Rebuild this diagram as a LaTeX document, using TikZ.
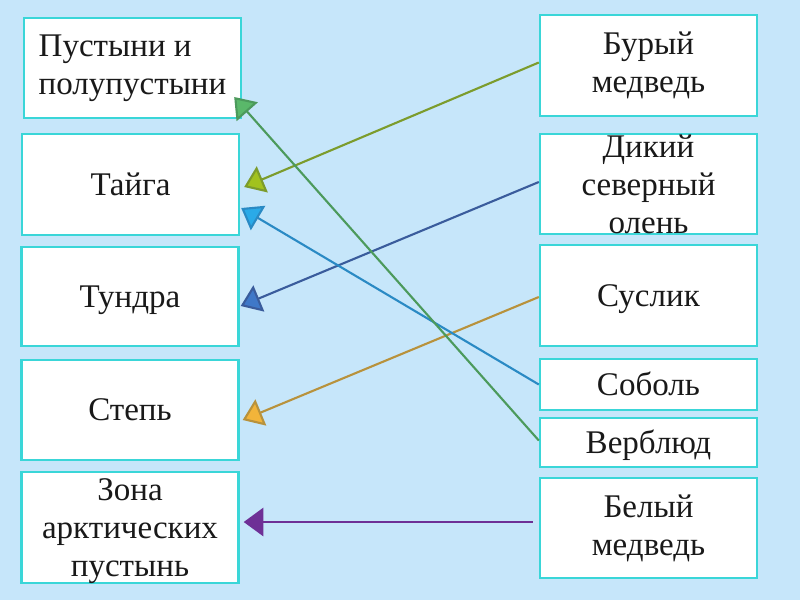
\documentclass[tikz,border=0pt]{standalone}
\usepackage{fontspec}
\setmainfont{Liberation Serif}
\usepackage{xcolor}
\usetikzlibrary{arrows.meta,calc}
\definecolor{bgSky}{HTML}{C6E6FA}
\definecolor{boxTeal}{HTML}{3AD6D8}
\definecolor{lnOlive}{HTML}{7C9C2C}
\definecolor{hdOlive}{HTML}{A2C21E}
\definecolor{lnNavy}{HTML}{3A5C9C}
\definecolor{hdNavy}{HTML}{3F78C8}
\definecolor{lnGold}{HTML}{B8923C}
\definecolor{hdGold}{HTML}{F2B43A}
\definecolor{lnSky}{HTML}{2A8AC4}
\definecolor{hdSky}{HTML}{2AAAE8}
\definecolor{lnGreen}{HTML}{4C9A5C}
\definecolor{hdGreen}{HTML}{5AB86A}
\definecolor{lnPurple}{HTML}{6E3096}
\tikzset{
  card/.style={draw=boxTeal, line width=1.8pt, fill=white, minimum width=5.42cm, inner sep=2pt, align=center, text=black!90},
  oneline/.style={text height=15pt, text depth=0pt},
  threeline/.style={text height=70pt, text depth=0pt, inner ysep=0pt},
  link/.style 2 args={draw=#1, line width=1.5pt, -{Triangle[length=14pt,width=20pt,fill=#2]}}
}

\begin{document}
\begin{tikzpicture}[x=0.025cm, y=-0.025cm, font=\fontsize{23.5}{27}\selectfont]
  \useasboundingbox[fill=bgSky] (0,0) rectangle (800,600);
  % natural zones
  \node[card, align=left, minimum height=2.5cm] (desert) at (132.5,68) {Пустыни и\\полупустыни};
  \node[card, oneline, minimum height=2.52cm] (taiga) at (130.5,184.5) {Тайга};
  \node[card, oneline, minimum height=2.48cm] (tundra) at (130,296.5) {Тундра};
  \node[card, oneline, minimum height=2.5cm] (steppe) at (130,410) {Степь};
  \node[card, threeline, minimum height=2.78cm] (arctic) at (130,527.5) {Зона\\арктических\\пустынь};
  % animals
  \node[card, minimum height=2.52cm] (bear) at (648.5,65.5) {Бурый\\медведь};
  \node[card, threeline, minimum height=2.5cm] (deer) at (648.5,184) {Дикий\\северный\\олень};
  \node[card, oneline, minimum height=2.52cm] (suslik) at (648.5,295.5) {Суслик};
  \node[card, oneline, minimum height=1.27cm] (sable) at (648.5,384.5) {Соболь};
  \node[card, oneline, minimum height=1.22cm] (camel) at (648.5,442.5) {Верблюд};
  \node[card, minimum height=2.5cm] (polar) at (648.5,528) {Белый\\медведь};
  % answers
  \draw[link={lnOlive}{hdOlive}] ($(bear.west)+(0,-3)$) -- ($(taiga.east)+(4,2.5)$);
  \draw[link={lnNavy}{hdNavy}] ($(deer.west)+(0,-2)$) -- ($(tundra.east)+(1,9.5)$);
  \draw[link={lnGold}{hdGold}] ($(suslik.west)+(0,1.5)$) -- ($(steppe.east)+(3,10)$);
  \draw[link={lnSky}{hdSky}] (sable.west) -- ($(taiga.east)+(1,23.5)$);
  \draw[link={lnGreen}{hdGreen}] ($(camel.west)+(0,-2)$) -- ($(desert.east)+(-8,29)$);
  \draw[link={lnPurple}{lnPurple}, line width=2pt] ($(polar.west)+(-6,-6)$) -- ($(arctic.east)+(4,-5.5)$);
\end{tikzpicture}
\end{document}
